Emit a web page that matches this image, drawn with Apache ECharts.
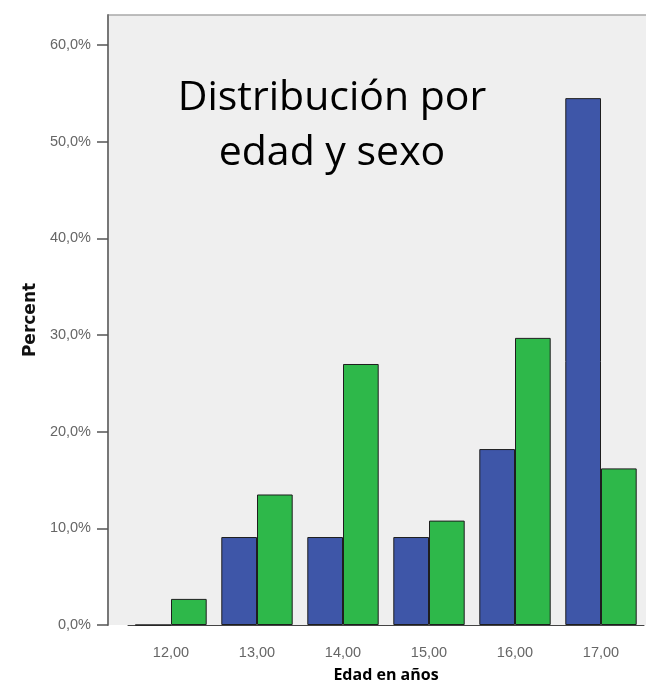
<!DOCTYPE html>
<html>
<head>
<meta charset="utf-8">
<script src="https://cdn.jsdelivr.net/npm/echarts@6/dist/echarts.min.js"></script>
<style>
  html, body { margin: 0; padding: 0; background: #fff; }
  #chart { width: 646px; height: 684px; }
</style>
</head>
<body>
<div id="chart"></div>
<script>
// datos
var edades = ['12,00', '13,00', '14,00', '15,00', '16,00', '17,00'];
var hombres = [0, 9.1, 9.1, 9.1, 18.2, 54.5];
var mujeres = [2.7, 13.5, 27.0, 10.8, 29.7, 16.2];
var yTicks = [0, 10, 20, 30, 40, 50, 60];

var chart = echarts.init(document.getElementById('chart'));

var option = {
    animation: false,
    title: {
        text: 'Distribución por\nedad y sexo',
        left: 327,
        top: 66,
        textAlign: 'center',
        textStyle: {
            fontFamily: 'Open Sans',
            fontWeight: 'normal',
            fontSize: 41,
            lineHeight: 55,
            color: '#000'
        }
    },
    graphic: [
        {
            type: 'rect',
            z: -10,
            shape: { x: 108, y: 15, width: 538, height: 610 },
            style: { fill: '#efefef' }
        },
        {
            type: 'line',
            z: -9,
            shape: { x1: 108, y1: 15, x2: 646, y2: 15 },
            style: { stroke: '#a8a8a8', lineWidth: 1.5 }
        }
    ],
    grid: {
        left: 128,
        right: 2,
        top: 15,
        bottom: 59,
        outerBoundsMode: 'none'
    },
    xAxis: {
        type: 'category',
        data: edades,
        name: 'Edad en años',
        nameLocation: 'middle',
        nameGap: 42,
        nameTextStyle: {
            fontFamily: 'Open Sans',
            fontWeight: 'bold',
            fontSize: 16,
            color: '#000'
        },
        axisLine: { lineStyle: { color: '#444', width: 1 } },
        axisTick: { alignWithLabel: true, length: 10, lineStyle: { color: '#444' } },
        axisLabel: {
            margin: 20,
            fontFamily: 'Liberation Sans',
            fontSize: 14.5,
            color: '#666'
        }
    },
    yAxis: {
        type: 'value',
        min: 0,
        max: 63.1,
        interval: 10,
        offset: 20,
        name: 'Percent',
        nameLocation: 'middle',
        nameRotate: 90,
        nameGap: 68,
        nameTextStyle: {
            fontFamily: 'DejaVu Sans',
            fontWeight: 'bold',
            fontSize: 17,
            color: '#111'
        },
        splitLine: { show: false },
        axisLine: { show: true, lineStyle: { color: '#777', width: 2 } },
        axisTick: {
            show: true,
            length: 11,
            customValues: yTicks,
            lineStyle: { color: '#555', width: 1.5 }
        },
        axisLabel: {
            margin: 17,
            customValues: yTicks,
            fontFamily: 'Liberation Sans',
            fontSize: 14.5,
            color: '#666',
            formatter: function (v) {
                return v.toFixed(1).replace('.', ',') + '%';
            }
        }
    },
    series: [
        {
            name: 'Hombres',
            type: 'bar',
            data: hombres,
            barGap: '0%',
            barCategoryGap: '17%',
            itemStyle: { color: '#3e56a8', borderColor: '#1e1e1e', borderWidth: 1 }
        },
        {
            name: 'Mujeres',
            type: 'bar',
            data: mujeres,
            barGap: '0%',
            barCategoryGap: '17%',
            itemStyle: { color: '#2eb84a', borderColor: '#1e1e1e', borderWidth: 1 }
        }
    ]
};

chart.setOption(option);
</script>
</body>
</html>
